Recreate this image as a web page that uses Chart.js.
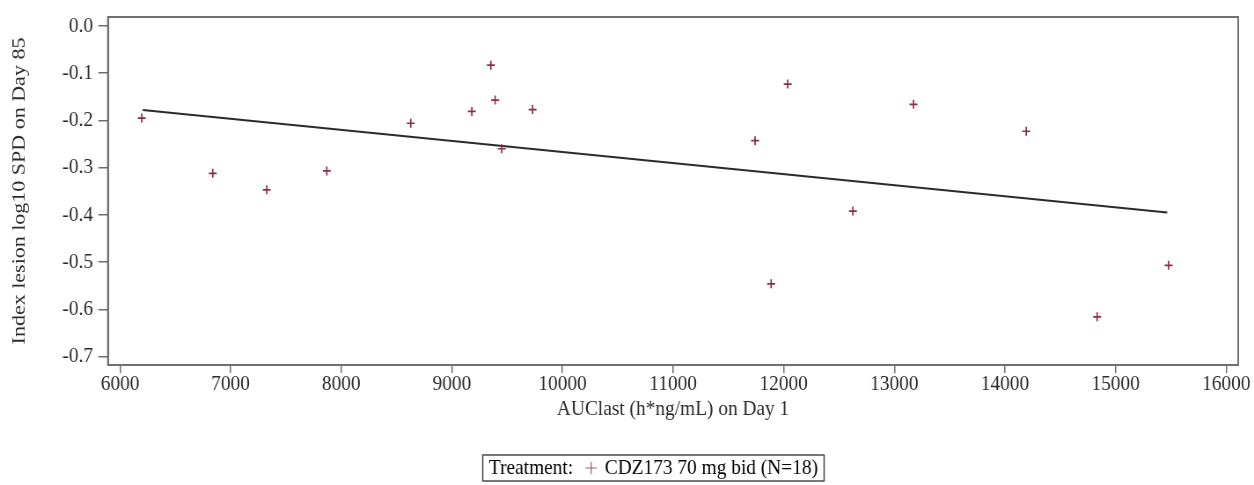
<!DOCTYPE html>
<html>
<head>
<meta charset="utf-8">
<script src="https://cdn.jsdelivr.net/npm/chart.js@4/dist/chart.umd.min.js"></script>
<style>
  html, body { margin: 0; padding: 0; background: #fff; overflow: hidden; }
  #wrap { width: 1254px; height: 485px; position: relative; }
  #c { display: block; }
</style>
</head>
<body>
<div id="wrap"><canvas id="c" width="1425" height="485" style="width:1254px;height:485px"></canvas></div>
<script>
// ---- data ----
const aucX = [6196, 6838, 7326, 7869, 8628, 9180, 9352, 9391, 9451, 9729,
              11741, 11886, 12036, 12625, 13173, 14192, 14833, 15479];
const lesionY = [-0.195, -0.312, -0.347, -0.307, -0.206, -0.181, -0.083, -0.157, -0.260, -0.177,
                 -0.243, -0.546, -0.123, -0.392, -0.166, -0.223, -0.616, -0.507];
const fitX = [6205, 15467];
const fitY = [-0.178, -0.395];
const xTickValues = [6000, 7000, 8000, 9000, 10000, 11000, 12000, 13000, 14000, 15000, 16000];
const yTickValues = [0.0, -0.1, -0.2, -0.3, -0.4, -0.5, -0.6, -0.7];
const legendTitle = 'Treatment:';
const seriesLabel = 'CDZ173 70 mg bid (N=18)';
const xTitle = 'AUClast (h*ng/mL) on Day 1';
const yTitle = 'Index lesion log10 SPD on Day 85';

const markerColor = '#8a2d4f';
const axisColor = '#6f6f6f';
const textColor = '#2b2b2b';
const legendBoxW = 9;
const legendFont = 22;

Chart.defaults.font.family = "'Liberation Serif', 'Times New Roman', serif";
Chart.defaults.color = textColor;

const framePlugin = {
  id: 'frame',
  afterLayout(chart) {
    const lg = chart.legend;
    if (lg) { lg.left += 29; lg.right += 29; }
  },
  afterDraw(chart) {
    const { ctx, chartArea: a } = chart;
    ctx.save();
    ctx.strokeStyle = axisColor;
    ctx.lineWidth = 2;
    ctx.strokeRect(a.left, a.top, a.right - a.left, a.bottom - a.top);
    const lg = chart.legend;
    if (lg && lg.legendHitBoxes && lg.legendHitBoxes.length) {
      const hb = lg.legendHitBoxes;
      let l = hb[0].left + legendBoxW + legendFont / 2 - 7;
      let r = -Infinity, t = Infinity, b = -Infinity;
      hb.forEach(h => { r = Math.max(r, h.left + h.width); t = Math.min(t, h.top); b = Math.max(b, h.top + h.height); });
      ctx.strokeStyle = '#4a4a4a';
      ctx.lineWidth = 1.5;
      ctx.strokeRect(l, t - 2, (r - l) + 7, (b - t) + 4);
    }
    ctx.restore();
  }
};

new Chart(document.getElementById('c'), {
  type: 'scatter',
  data: {
    datasets: [
      {
        label: seriesLabel,
        data: aucX.map((x, i) => ({ x: x, y: lesionY[i] })),
        pointStyle: 'cross',
        pointRadius: 4.5,
        pointBorderWidth: 1.7,
        borderColor: markerColor,
        backgroundColor: markerColor,
        showLine: false
      },
      {
        label: 'fit',
        type: 'line',
        data: fitX.map((x, i) => ({ x: x, y: fitY[i] })),
        borderColor: '#2a2a2a',
        borderWidth: 2,
        pointRadius: 0,
        fill: false
      }
    ]
  },
  options: {
    responsive: false,
    animation: false,
    devicePixelRatio: 1,
    layout: { padding: { left: 0, right: 18, top: 13, bottom: -4 } },
    plugins: {
      tooltip: { enabled: false },
      legend: {
        position: 'bottom',
        align: 'center',
        labels: {
          font: { size: legendFont, lineHeight: 1.0 },
          color: textColor,
          padding: 16,
          usePointStyle: true,
          boxWidth: legendBoxW,
          boxHeight: legendBoxW,
          generateLabels(chart) {
            return [
              { text: legendTitle, fillStyle: 'rgba(0,0,0,0)', strokeStyle: 'rgba(0,0,0,0)', lineWidth: 0, pointStyle: 'circle', datasetIndex: -1, hidden: false },
              { text: seriesLabel, fillStyle: '#a05a75', strokeStyle: '#a05a75', lineWidth: 1.2, pointStyle: 'cross', datasetIndex: 0, hidden: false }
            ];
          }
        }
      }
    },
    scales: {
      x: {
        type: 'linear',
        min: 5891,
        max: 16108,
        afterBuildTicks(axis) { axis.ticks = xTickValues.map(v => ({ value: v })); },
        afterFit(scale) { scale.height = 76; },
        ticks: { font: { size: 22, lineHeight: 1.0 }, color: textColor, padding: 0, maxRotation: 0, autoSkip: false, callback: v => String(v) },
        grid: { display: true, drawOnChartArea: false, drawTicks: true, tickLength: 8, color: axisColor, lineWidth: 1.5 },
        border: { display: true, color: axisColor, width: 2 },
        title: { display: true, text: xTitle, font: { size: 22 }, color: textColor, padding: { top: 4, bottom: 19 } }
      },
      y: {
        type: 'linear',
        min: -0.718,
        max: 0.019,
        afterBuildTicks(axis) { axis.ticks = yTickValues.map(v => ({ value: v })); },
        afterFit(scale) { scale.width = 122.7; },
        ticks: { font: { size: 22, lineHeight: 1.0 }, color: textColor, padding: 6, callback: v => Number(v).toFixed(1) },
        grid: { display: true, drawOnChartArea: false, drawTicks: true, tickLength: 11, color: axisColor, lineWidth: 1.5 },
        border: { display: true, color: axisColor, width: 2 },
        title: { display: true, text: yTitle, font: { size: 22 }, color: textColor, padding: { top: 9, bottom: 0 } }
      }
    }
  },
  plugins: [framePlugin]
});
</script>
</body>
</html>
